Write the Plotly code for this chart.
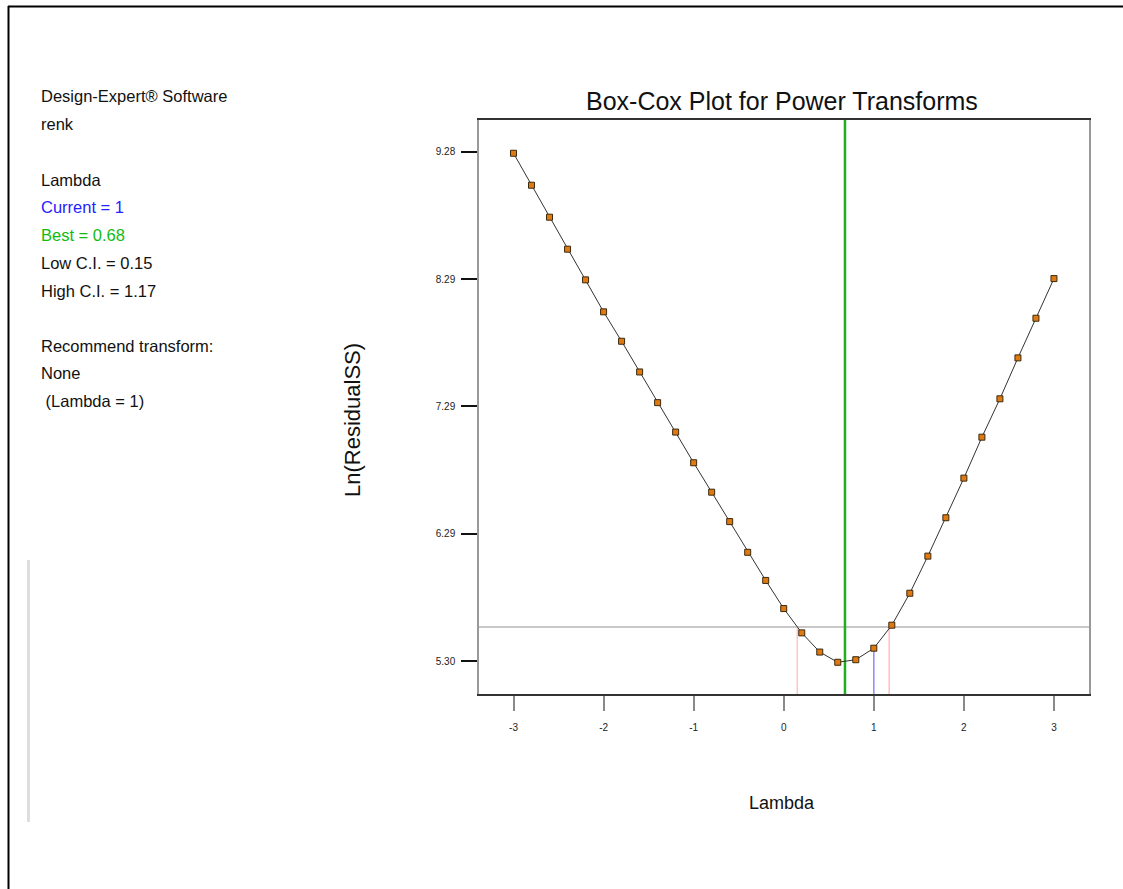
import plotly.graph_objects as go

# ---- data ----
lambdas = [-3.0, -2.8, -2.6, -2.4, -2.2, -2.0, -1.8, -1.6, -1.4, -1.2, -1.0,
           -0.8, -0.6, -0.4, -0.2, 0.0, 0.2, 0.4, 0.6, 0.8, 1.0,
           1.2, 1.4, 1.6, 1.8, 2.0, 2.2, 2.4, 2.6, 2.8, 3.0]
ln_resid_ss = [9.27, 9.02, 8.77, 8.52, 8.28, 8.03, 7.80, 7.56, 7.32, 7.09, 6.85,
               6.62, 6.39, 6.15, 5.93, 5.71, 5.52, 5.37, 5.29, 5.31, 5.40,
               5.58, 5.83, 6.12, 6.42, 6.73, 7.05, 7.35, 7.67, 7.98, 8.29]
current_lambda = 1.0
best_lambda = 0.68
low_ci = 0.15
high_ci = 1.17
ci_threshold = 5.565
current_value = 5.40

x_ticks = [-3, -2, -1, 0, 1, 2, 3]
y_tickvals = [5.30, 6.295, 7.29, 8.285, 9.28]
y_ticktext = ["5.30", "6.29", "7.29", "8.29", "9.28"]

info_lines = [
    ("Design-Expert® Software", "#111111"),
    ("renk", "#111111"),
    ("", "#111111"),
    ("Lambda", "#111111"),
    ("Current = 1", "#2222ff"),
    ("Best = 0.68", "#11bb11"),
    ("Low C.I. = 0.15", "#111111"),
    ("High C.I. = 1.17", "#111111"),
    ("", "#111111"),
    ("Recommend transform:", "#111111"),
    ("None", "#111111"),
    (" (Lambda = 1)", "#111111"),
]

FONT = "Liberation Sans Narrow, Arial Narrow, Liberation Sans, Arial, sans-serif"

W, H = 1123, 889
L, R, T, B = 479, 1089, 120, 694
Y0, Y1 = 5.042, 9.53


def px(xp):
    return (xp - L) / (R - L)


def py(yp):
    return (B - yp) / (B - T)


def yfrac(v):
    return (v - Y0) / (Y1 - Y0)


fig = go.Figure()
fig.add_trace(go.Scatter(
    x=lambdas, y=ln_resid_ss, mode="lines+markers",
    line=dict(color="#333333", width=1),
    marker=dict(symbol="square", size=6, color="#e07a10",
                line=dict(color="#3a2a10", width=1)),
    hoverinfo="x+y", showlegend=False,
))

shapes = []
# CI threshold horizontal line
shapes.append(dict(type="line", xref="paper", yref="y", x0=0, x1=1,
                   y0=ci_threshold, y1=ci_threshold,
                   line=dict(color="#c8c8c8", width=2), layer="below"))
# low / high CI vertical lines
shapes.append(dict(type="line", xref="x", yref="paper", x0=low_ci, x1=low_ci,
                   y0=0, y1=yfrac(ci_threshold),
                   line=dict(color="#ffc6c6", width=1.5), layer="below"))
shapes.append(dict(type="line", xref="x", yref="paper", x0=high_ci, x1=high_ci,
                   y0=0, y1=yfrac(ci_threshold),
                   line=dict(color="#ffa0a0", width=1), layer="below"))
# current lambda
shapes.append(dict(type="line", xref="x", yref="paper", x0=current_lambda, x1=current_lambda,
                   y0=0, y1=yfrac(current_value),
                   line=dict(color="#8a8aff", width=1.5), layer="below"))
# best lambda
shapes.append(dict(type="line", xref="x", yref="paper", x0=best_lambda, x1=best_lambda,
                   y0=0, y1=1, line=dict(color="#1fae1f", width=2.5), layer="below"))
# outer frame
shapes.append(dict(type="line", xref="paper", yref="paper", x0=px(8), x1=px(1123),
                   y0=py(6.5), y1=py(6.5), line=dict(color="black", width=2)))
shapes.append(dict(type="line", xref="paper", yref="paper", x0=px(8.5), x1=px(8.5),
                   y0=py(6), y1=py(889), line=dict(color="black", width=2)))
# faint grey bar on left
shapes.append(dict(type="line", xref="paper", yref="paper", x0=px(28.5), x1=px(28.5),
                   y0=py(560), y1=py(822), line=dict(color="#dedede", width=3)))

annotations = []
annotations.append(dict(text="Box-Cox Plot for Power Transforms", xref="paper", yref="paper",
                        x=px(782), y=py(101), xanchor="center", yanchor="middle",
                        showarrow=False, font=dict(family=FONT, size=25, color="#111111")))
annotations.append(dict(text="Lambda", xref="paper", yref="paper",
                        x=px(782), y=py(803), xanchor="center", yanchor="middle",
                        showarrow=False, font=dict(family=FONT, size=18, color="#111111")))
annotations.append(dict(text="Ln(ResidualSS)", xref="paper", yref="paper",
                        x=px(353), y=py(420), xanchor="center", yanchor="middle",
                        textangle=-90, showarrow=False,
                        font=dict(family=FONT, size=22, color="#111111")))
line_y = [96, 124, 152, 180, 207, 235, 263, 291, 319, 346, 373, 401]
for (txt, col), yy in zip(info_lines, line_y):
    if not txt:
        continue
    annotations.append(dict(text=txt.replace(" ", "&nbsp;", 1) if txt.startswith(" ") else txt,
                            xref="paper", yref="paper",
                            x=px(39), y=py(yy), xanchor="left", yanchor="middle",
                            showarrow=False, font=dict(family=FONT, size=16.5, color=col)))

fig.update_layout(
    width=W, height=H, autosize=False,
    margin=dict(l=L, r=W - R, t=T, b=H - B, pad=0),
    paper_bgcolor="white", plot_bgcolor="white",
    shapes=shapes, annotations=annotations,
    xaxis=dict(range=[-3.383, 3.389], tickvals=x_ticks, ticktext=[str(v) for v in x_ticks],
               showgrid=False, zeroline=False, showline=True, mirror=True,
               linecolor="#333333", linewidth=1.5,
               ticks="outside", ticklen=15, tickwidth=2, tickcolor="#8a8a8a",
               ticklabelstandoff=8,
               tickfont=dict(family=FONT, size=10, color="#222222")),
    yaxis=dict(range=[Y0, Y1], tickvals=y_tickvals, ticktext=y_ticktext,
               showgrid=False, zeroline=False, showline=True, mirror=True,
               linecolor="#999999", linewidth=1.5,
               ticks="outside", ticklen=16, tickwidth=1.5, tickcolor="#111111",
               ticklabelstandoff=4,
               tickfont=dict(family=FONT, size=10, color="#222222")),
)

fig.write_html("out.html")
